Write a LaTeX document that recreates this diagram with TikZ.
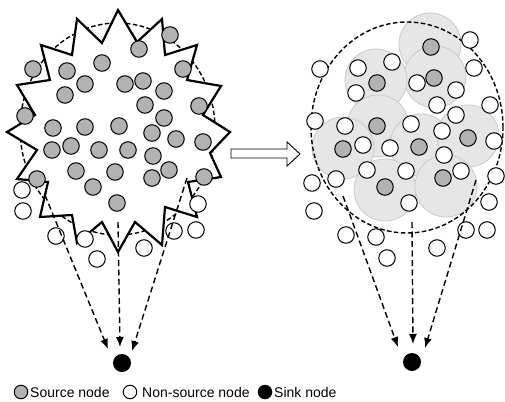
\documentclass[tikz,border=0pt]{standalone}
\usepackage{fontspec}
\setmainfont{Liberation Sans}
\usetikzlibrary{arrows.meta}
\definecolor{srcgray}{RGB}{178,178,178}
\definecolor{cellfill}{RGB}{230,230,230}
\definecolor{celledge}{RGB}{202,202,202}
\begin{document}
\begin{tikzpicture}[x=1pt,y=-1pt,
  src/.style={circle,draw=black,fill=srcgray,line width=1pt,minimum size=16.5pt,inner sep=0pt},
  nsrc/.style={circle,draw=black,fill=white,line width=1pt,minimum size=16.5pt,inner sep=0pt},
  sinknode/.style={circle,fill=black,minimum size=18pt,inner sep=0pt},
  cell/.style={circle,draw=celledge,fill=cellfill,line width=0.8pt,minimum size=62pt,inner sep=0pt},
  region/.style={line width=1.4pt,dash pattern=on 4.5pt off 2.5pt},
  arr/.style={line width=1.4pt,dash pattern=on 6pt off 3.5pt,-{Latex[length=10pt,width=8pt]}},
  starline/.style={draw=black,fill=white,line width=2.2pt,line join=miter},
  hollow/.style={draw=black,fill=white,line width=0.9pt},
  legtext/.style={anchor=base west,inner sep=0pt,font=\fontsize{14}{16}\selectfont}
]
\useasboundingbox (0,0) rectangle (505,401);

% ---------- left figure ----------
\draw[region] (117.5,129) ellipse [x radius=97.5pt, y radius=106pt];
\path[starline] (118,10) -- (137,42) -- (162,19) -- (165,55) -- (197,45) -- (187,80)
  -- (221,86) -- (203,115) -- (230,132) -- (210,153) -- (221,177) -- (188,182)
  -- (197,217) -- (165,207) -- (162,245) -- (135,222) -- (118,252) -- (102,222)
  -- (77,243) -- (72,215) -- (40,217) -- (48,182) -- (17,179) -- (37,150)
  -- (7,132) -- (35,115) -- (17,85) -- (50,80) -- (41,45) -- (72,55)
  -- (77,19) -- (102,43) -- cycle;

\foreach \x/\y [count=\i] in {170/35,139/49,102/63,33/69,67/71,183/69,85/84,125/84,
  143/81,164/91,65/95,145/105,199/106,25/116,164/118,53/128,85/127,119/126,152/133,
  176/139,203/142,52/150,71/146,99/150,128/150,153/156,76/171,115/172,152/178,
  169/170,37/179,204/177,93/187,117/203}
  \node[src] (ls\i) at (\x,\y) {};

\foreach \x/\y [count=\i] in {22/190,23/211,198/204,56/236,85/239,174/231,196/230,
  144/248,97/259}
  \node[nsrc] (ln\i) at (\x,\y) {};

\node[sinknode] (sinkL) at (122,363) {};
\coordinate (la1) at (45,195);
\coordinate (la2) at (118,222);
\coordinate (la3) at (187,178);
\coordinate (lt1) at (108,349);
\coordinate (lt2) at (120,347);
\coordinate (lt3) at (132,351);
\draw[arr] (la1) -- (lt1);
\draw[arr] (la2) -- (lt2);
\draw[arr] (la3) -- (lt3);

% ---------- transition arrow ----------
\path[hollow] (231,149) -- (287,149) -- (287,142) -- (300,154) -- (287,166)
  -- (287,158) -- (231,158) -- cycle;

% ---------- right figure ----------
\foreach \x/\y [count=\i] in {430/44,435/77,376/80,378/126,343/148,421/145,468/136,
  385/190,446/186}
  \node[cell] (cl\i) at (\x,\y) {};

\draw[region] (407,127.5) ellipse [x radius=96pt, y radius=105.5pt];

\foreach \x/\y [count=\i] in {431/47,434/78,377/83,377/126,343/149,419/147,468/138,
  385/187,443/178}
  \node[src] (rs\i) at (\x,\y) {};

\foreach \x/\y [count=\i] in {470/40,320/69,358/68,392/62,474/68,356/93,417/83,
  456/90,437/105,490/105,315/121,345/126,411/124,456/115,363/145,390/148,442/131,
  494/141,444/155,367/170,406/171,461/171,496/176,336/179,312/183,409/203,489/202,
  314/211,466/230,487/230,346/235,376/237,437/248,387/258}
  \node[nsrc] (rn\i) at (\x,\y) {};

\node[sinknode] (sinkR) at (412,362) {};
\coordinate (ra1) at (343,196);
\coordinate (ra2) at (412,222);
\coordinate (ra3) at (476,180);
\coordinate (rt1) at (398,347);
\coordinate (rt2) at (413,344);
\coordinate (rt3) at (425,348);
\draw[arr] (ra1) -- (rt1);
\draw[arr] (ra2) -- (rt2);
\draw[arr] (ra3) -- (rt3);

% ---------- legend ----------
\node[src,minimum size=13.5pt] (lg1) at (21,392) {};
\node[legtext] (lt1txt) at (30,397) {Source node};
\node[nsrc,minimum size=13.5pt] (lg2) at (130,392) {};
\node[legtext] (lt2txt) at (142,397) {Non-source node};
\node[sinknode,minimum size=14.5pt] (lg3) at (265,392) {};
\node[legtext] (lt3txt) at (274,397) {Sink node};
\end{tikzpicture}
\end{document}
